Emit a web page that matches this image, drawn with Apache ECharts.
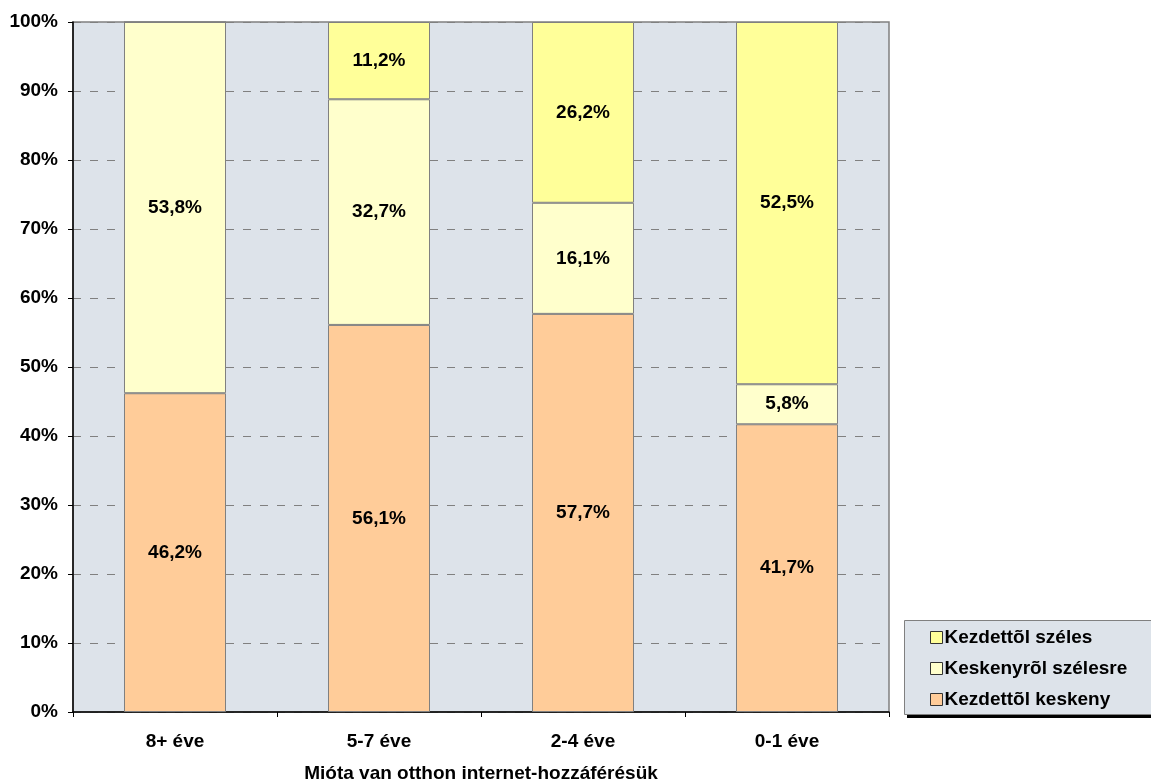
<!DOCTYPE html>
<html>
<head>
<meta charset="utf-8">
<script src="https://cdn.jsdelivr.net/npm/echarts@6/dist/echarts.min.js"></script>
<style>
  html, body { margin: 0; padding: 0; background: #ffffff; overflow: hidden; }
  #chart { width: 1151px; height: 782px; }
</style>
</head>
<body>
<div id="chart"></div>
<script>
// Categories: how long the household has had home internet access
const categories = ['8+ éve', '5-7 éve', '2-4 éve', '0-1 éve'];
const yTicks = [0, 10, 20, 30, 40, 50, 60, 70, 80, 90, 100];

// Share of each connection history (percent)
const narrowFromStart = [46.2, 56.1, 57.7, 41.7];   // Kezdettõl keskeny
const narrowToBroad   = [53.8, 32.7, 16.1, 5.8];    // Keskenyrõl szélesre
const broadFromStart  = [0, 11.2, 26.2, 52.5];      // Kezdettõl széles

const seriesNames = ['Kezdettõl keskeny', 'Keskenyrõl szélesre', 'Kezdettõl széles'];
const seriesColors = ['#ffcc99', '#ffffcc', '#ffff99'];
const seriesData = [narrowFromStart, narrowToBroad, broadFromStart];

const FONT = 'Liberation Sans, Arial, sans-serif';
const FS = 19;
const PANEL = '#dde3ea';

const chart = echarts.init(document.getElementById('chart'), null, { renderer: 'canvas' });

const series = seriesData.map((data, i) => ({
  name: seriesNames[i],
  type: 'bar',
  stack: 'total',
  barWidth: '50%',
  data: data,
  itemStyle: { color: seriesColors[i], borderColor: '#808080', borderWidth: 1 },
  label: {
    show: true,
    position: 'inside',
    fontFamily: FONT,
    fontWeight: 'bold',
    fontSize: FS,
    color: '#000',
    formatter: p => p.value > 0 ? p.value.toFixed(1).replace('.', ',') + '%' : ''
  },
  emphasis: { disabled: true }
}));

chart.setOption({
  animation: false,
  grid: {
    left: 73, right: 262, top: 22, bottom: 70,
    outerBoundsMode: 'none',
    containLabel: false,
    show: true, backgroundColor: PANEL, borderColor: '#808080', borderWidth: 1.5
  },
  // Legend frame with a hard drop shadow
  graphic: [
    { type: 'rect', z: 0, shape: { x: 907, y: 624, width: 260, height: 94 }, style: { fill: '#000' }, silent: true },
    { type: 'rect', z: 1, shape: { x: 904.5, y: 620.5, width: 260, height: 94 }, style: { fill: PANEL, stroke: '#808080', lineWidth: 1 }, silent: true }
  ],
  legend: {
    orient: 'vertical',
    left: 904, top: 620, z: 5,
    data: seriesNames.slice().reverse(),
    itemWidth: 12, itemHeight: 12, itemGap: 12,
    padding: [8, 24, 6, 26],
    itemStyle: { borderColor: '#333', borderWidth: 1 },
    textStyle: { fontFamily: FONT, fontWeight: 'bold', fontSize: FS, color: '#000', padding: [0, 0, 0, -3] },
    icon: 'rect',
    selectedMode: false
  },
  xAxis: {
    type: 'category',
    data: categories,
    name: 'Mióta van otthon internet-hozzáférésük',
    nameLocation: 'middle',
    nameGap: 52,
    nameTextStyle: { fontFamily: FONT, fontWeight: 'bold', fontSize: FS, color: '#000' },
    axisLine: { lineStyle: { color: '#000', width: 1.5 } },
    axisTick: { show: true, length: 5, lineStyle: { color: '#000' } },
    axisLabel: { fontFamily: FONT, fontWeight: 'bold', fontSize: FS, color: '#000', margin: 20 }
  },
  yAxis: {
    type: 'value',
    min: yTicks[0], max: yTicks[yTicks.length - 1], interval: 10,
    axisLine: { show: true, lineStyle: { color: '#000', width: 1.5 } },
    axisTick: { show: true, length: 5, lineStyle: { color: '#000' } },
    axisLabel: { fontFamily: FONT, fontWeight: 'bold', fontSize: FS, color: '#000', margin: 15, formatter: v => v + '%' },
    splitLine: { show: true, lineStyle: { color: '#808080', type: [8, 9], width: 1 } }
  },
  series: series
});
</script>
</body>
</html>
